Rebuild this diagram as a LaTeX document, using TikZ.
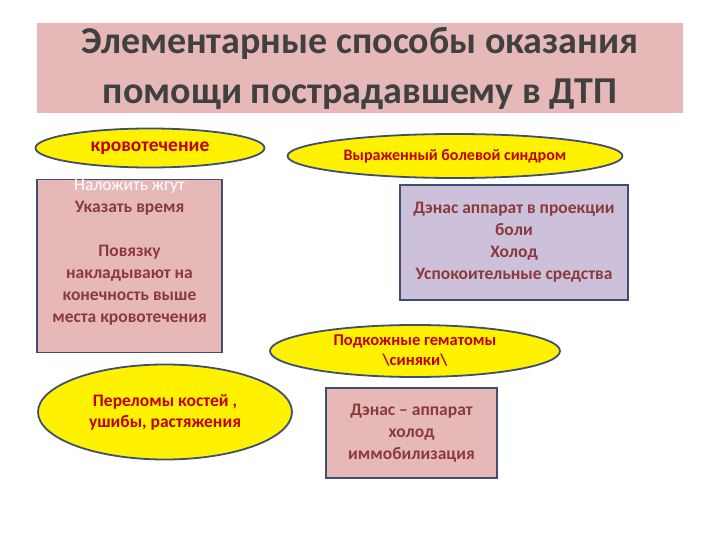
\documentclass[tikz,border=0pt]{standalone}
\usepackage{fontspec}
\setmainfont{Carlito}
\usetikzlibrary{shapes.geometric}
\definecolor{pinkbg}{HTML}{E6B9B8}
\definecolor{lav}{HTML}{CCC0DA}
\definecolor{edge}{HTML}{3F4F6F}
\definecolor{redtxt}{HTML}{C00000}
\definecolor{boxtxt}{HTML}{8B3A3A}
\definecolor{titletxt}{HTML}{404040}
\begin{document}
\begin{tikzpicture}[x=1pt,y=-1pt,
  ell/.style={ellipse,draw=edge,line width=1.8pt,fill=yellow,inner sep=0pt,text=redtxt,font=\bfseries,align=center},
  card/.style={draw=edge,line width=1.6pt,inner sep=0pt,text=boxtxt,font=\bfseries,align=center},
]
\useasboundingbox (0,0) rectangle (720,540);
\node[fill=pinkbg,minimum width=646pt,minimum height=90pt,inner sep=0pt,text=titletxt,font=\bfseries\fontsize{38}{50}\selectfont,align=center] (title) at (360,68) {Элементарные способы оказания\\помощи пострадавшему  в ДТП};
\node[ell,minimum width=229pt,minimum height=39pt,font=\bfseries\fontsize{19.5}{17}\selectfont] (e1) at (150,148) {кровотечение};
\node[ell,minimum width=335pt,minimum height=44pt,font=\bfseries\fontsize{16}{14}\selectfont] (e2) at (455,156) {Выраженный болевой синдром};
\node[card,fill=pinkbg,minimum width=185pt,minimum height=164pt,font=\bfseries\fontsize{17.5}{22}\selectfont] (b1) at (129.5,266) {\textcolor{white}{\mdseries Наложить жгут}\\Указать время\\[22pt]Повязку\\накладывают на\\конечность выше\\места кровотечения\\[8pt]};
\node[card,fill=lav,minimum width=228pt,minimum height=115pt,font=\bfseries\fontsize{17.5}{22}\selectfont] (b2) at (514,242.5) {Дэнас  аппарат в проекции\\боли\\Холод\\Успокоительные  средства};
\node[ell,minimum width=290pt,minimum height=52pt,font=\bfseries\fontsize{16.5}{20}\selectfont] (e3) at (415,351) {Подкожные гематомы\\\textbackslash синяки\textbackslash};
\node[ell,minimum width=254pt,minimum height=95pt,font=\bfseries\fontsize{17.5}{21}\selectfont] (e4) at (165,412) {Переломы костей  ,\\ушибы,  растяжения};
\node[card,fill=pinkbg,minimum width=171pt,minimum height=90pt,font=\bfseries\fontsize{17.5}{22}\selectfont] (b3) at (411.5,433) {Дэнас -- аппарат\\холод\\иммобилизация};
\end{tikzpicture}
\end{document}
